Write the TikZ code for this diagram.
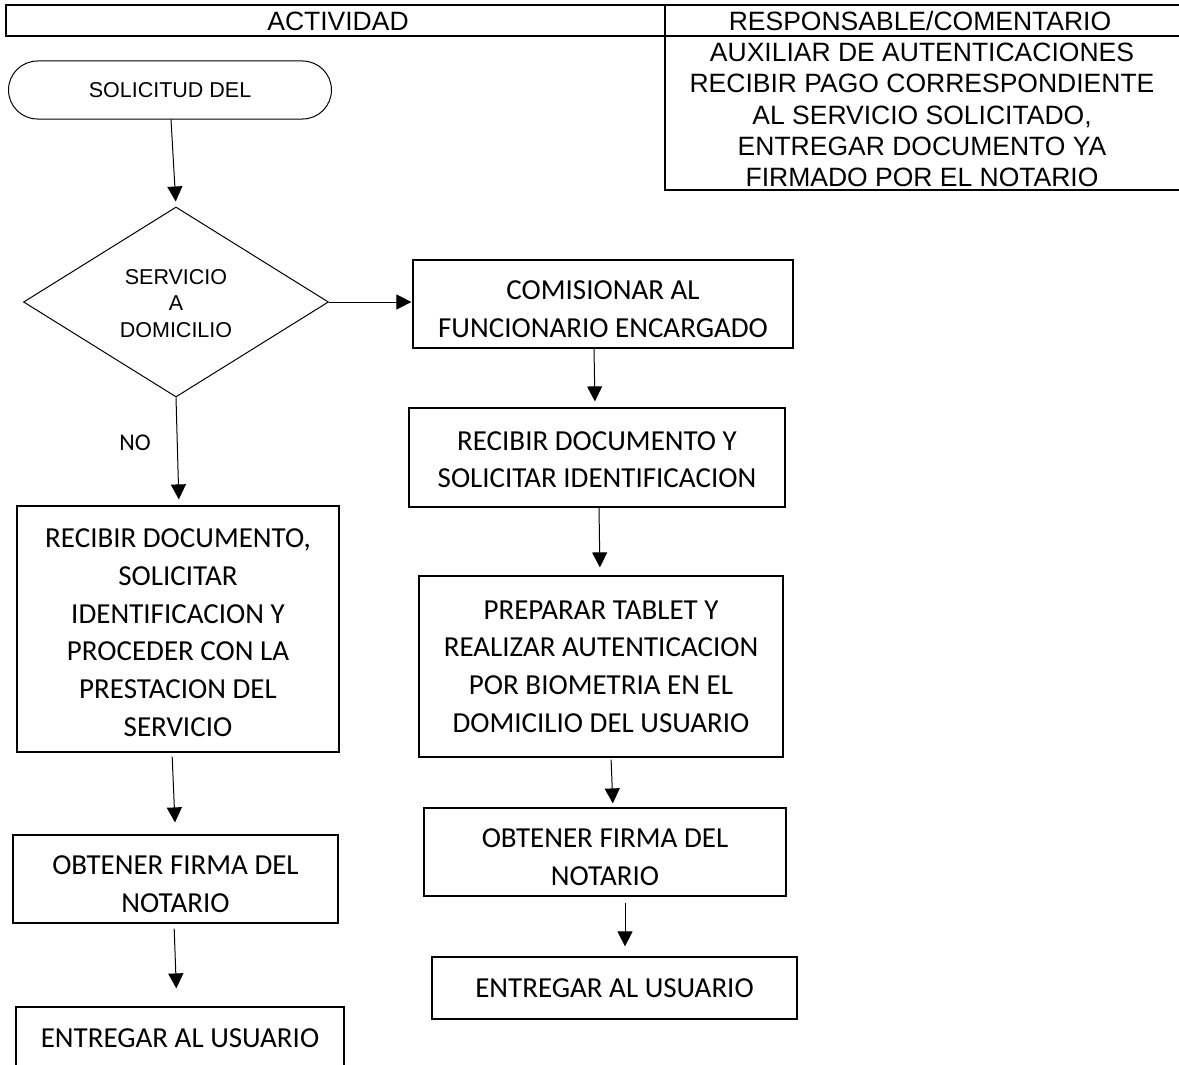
\documentclass[tikz,border=0pt]{standalone}
\usepackage{fontspec}
\setmainfont{Carlito}
\newfontfamily\arialf{Liberation Sans}
\usetikzlibrary{shapes.geometric,arrows.meta}
\newcommand{\lift}[1]{\rule{0pt}{#1pt}}
\begin{document}
\begin{tikzpicture}[x=1pt,y=-1pt,
  box/.style={draw=black, line width=1.2pt, inner sep=0pt, align=center,
    font=\fontsize{29}{37.8}\selectfont},
  arr/.style={draw=black, line width=1pt, -{Triangle[length=15pt,width=15pt]}},
  hdr/.style={draw=black, line width=2pt},
  hdrtext/.style={align=center, inner sep=0pt, font=\arialf\fontsize{26.5}{31.2}\selectfont}]
\useasboundingbox (0,0) rectangle (1179,1065);
\fill[white] (0,0) rectangle (1179,1065);

% header table
\draw[hdr] (1190,5) -- (6,5) -- (6,36) -- (1190,36);
\draw[hdr] (665,5) -- (665,190) -- (1190,190);
\node[hdrtext] (hact) at (338,21) {ACTIVIDAD};
\node[hdrtext] (hresp) at (920,21) {RESPONSABLE/COMENTARIO};
\node[hdrtext] (hcom) at (922,115) {AUXILIAR DE AUTENTICACIONES\\RECIBIR PAGO CORRESPONDIENTE\\AL SERVICIO SOLICITADO,\\ENTREGAR DOCUMENTO YA\\FIRMADO POR EL NOTARIO};

% start and decision
\node[draw=black, line width=1pt, rounded corners=29pt, minimum width=323pt, minimum height=58pt,
  inner sep=0pt, font=\arialf\fontsize{21.5}{26}\selectfont] (T) at (170,90) {SOLICITUD DEL};
\node[draw=black, diamond, line width=1pt, minimum width=305pt, minimum height=190pt, inner sep=0pt,
  aspect=1.6, align=center, font=\arialf\fontsize{21.5}{26.5}\selectfont] (D) at (176,302) {\lift{18}SERVICIO\\A\\DOMICILIO};

% left column
\node[box, minimum width=322pt, minimum height=246pt] (R1) at (178,629)
  {\lift{26}RECIBIR DOCUMENTO,\\SOLICITAR\\IDENTIFICACION Y\\PROCEDER CON LA\\PRESTACION DEL\\SERVICIO};
\node[box, minimum width=325pt, minimum height=88pt] (O1) at (175.5,879) {\lift{29}OBTENER FIRMA DEL\\NOTARIO};
\node[box, minimum width=328pt, minimum height=62pt] (E1) at (180,1038) {ENTREGAR AL USUARIO};

% right column
\node[box, minimum width=380pt, minimum height=88pt] (C) at (603,304) {\lift{29}COMISIONAR AL\\FUNCIONARIO ENCARGADO};
\node[box, minimum width=376pt, minimum height=99pt] (R2) at (597,457.5) {\lift{23}RECIBIR DOCUMENTO Y\\SOLICITAR IDENTIFICACION};
\node[box, minimum width=364pt, minimum height=181pt] (P) at (601,666.5)
  {PREPARAR TABLET Y\\REALIZAR AUTENTICACION\\POR BIOMETRIA EN EL\\DOMICILIO DEL USUARIO};
\node[box, minimum width=362pt, minimum height=88pt] (O2) at (605,852) {\lift{29}OBTENER FIRMA DEL\\NOTARIO};
\node[box, minimum width=365pt, minimum height=62pt] (E2) at (614.5,988) {ENTREGAR AL USUARIO};

% connectors
\draw[arr, shorten >=5pt] ([xshift=1pt]T.south) -- (D.north);
\draw[arr, shorten >=1pt] (D.east) -- (D.east -| C.west);
\draw[arr, shorten >=6pt] (D.south) -- ([xshift=1pt]R1.north);
\node[font=\fontsize{24}{28}\selectfont] (no) at (135,443) {NO};
\draw[arr, shorten <=4pt, shorten >=12pt] ([xshift=-6pt]R1.south) -- (O1.north);
\draw[arr, shorten <=5pt, shorten >=18pt] ([xshift=-1.5pt]O1.south) -- ([xshift=-3pt]E1.north);
\draw[arr, shorten >=6pt] ([xshift=-9pt]C.south) -- ([xshift=-2pt]R2.north);
\draw[arr, shorten >=8pt] ([xshift=2pt]R2.south) -- ([xshift=-1pt]P.north);
\draw[arr, shorten <=2pt, shorten >=4pt] ([xshift=10pt]P.south) -- ([xshift=8pt]O2.north);
\draw[arr, shorten <=6pt, shorten >=10pt] ([xshift=20pt]O2.south) -- ([xshift=10.5pt]E2.north);
\end{tikzpicture}
\end{document}
